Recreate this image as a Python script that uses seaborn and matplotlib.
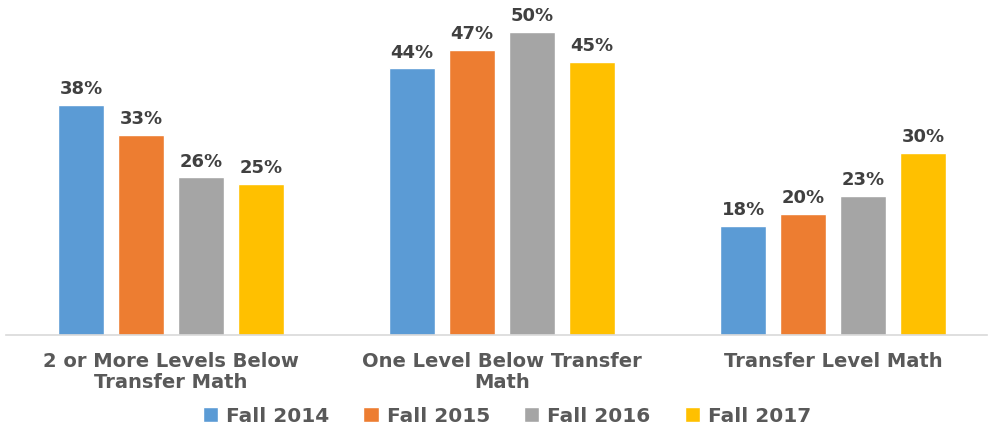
import pandas as pd
import matplotlib
matplotlib.use('Agg')
import matplotlib.pyplot as plt
import seaborn as sns

categories = ['2 or More Levels Below\nTransfer Math', 'One Level Below Transfer\nMath', 'Transfer Level Math']
terms = ['Fall 2014', 'Fall 2015', 'Fall 2016', 'Fall 2017']
fall_2014 = [38, 44, 18]
fall_2015 = [33, 47, 20]
fall_2016 = [26, 50, 23]
fall_2017 = [25, 45, 30]
colors = ['#5B9BD5', '#ED7D31', '#A5A5A5', '#FFC000']

rows = []
for term, vals in zip(terms, [fall_2014, fall_2015, fall_2016, fall_2017]):
    for cat, v in zip(categories, vals):
        rows.append({'Category': cat, 'Term': term, 'Value': v})
df = pd.DataFrame(rows)

sns.set_theme(style='white')
plt.rcParams['font.family'] = ['DejaVu Sans']

fig = plt.figure(figsize=(9.89, 4.25), dpi=100)
ax = fig.add_axes([6 / 989, 90 / 425, 981 / 989, 335 / 425])

sns.barplot(data=df, x='Category', y='Value', hue='Term', palette=colors,
            width=0.725, gap=0.22, saturation=1, ax=ax, legend=True)

# data labels
for cont in ax.containers:
    ax.bar_label(cont, labels=[f'{int(b.get_height())}%' for b in cont],
                 padding=5, fontsize=13, fontweight='bold', color='#404040')

ax.set_xlim(-0.4985, 2.465)
ax.set_ylim(0, 55.3)
ax.set_xlabel('')
ax.set_ylabel('')
ax.set_yticks([])
ax.tick_params(axis='x', length=0, pad=12)
for lab in ax.get_xticklabels():
    lab.set_fontsize(14)
    lab.set_fontweight('bold')
    lab.set_color('#595959')
    lab.set_linespacing(1.15)

for side in ['left', 'right', 'top']:
    ax.spines[side].set_visible(False)
ax.spines['bottom'].set_color('#D9D9D9')
ax.spines['bottom'].set_linewidth(1.2)

handles, labels = ax.get_legend_handles_labels()
ax.legend(handles, labels, loc='center', bbox_to_anchor=(507 / 989, 9 / 425),
          bbox_transform=fig.transFigure, ncol=4, frameon=False,
          prop={'size': 14.5, 'weight': 'bold'}, labelcolor='#595959',
          handlelength=0.75, handleheight=0.75, handletextpad=0.4, columnspacing=1.7)

fig.savefig('out.png', dpi=100)
